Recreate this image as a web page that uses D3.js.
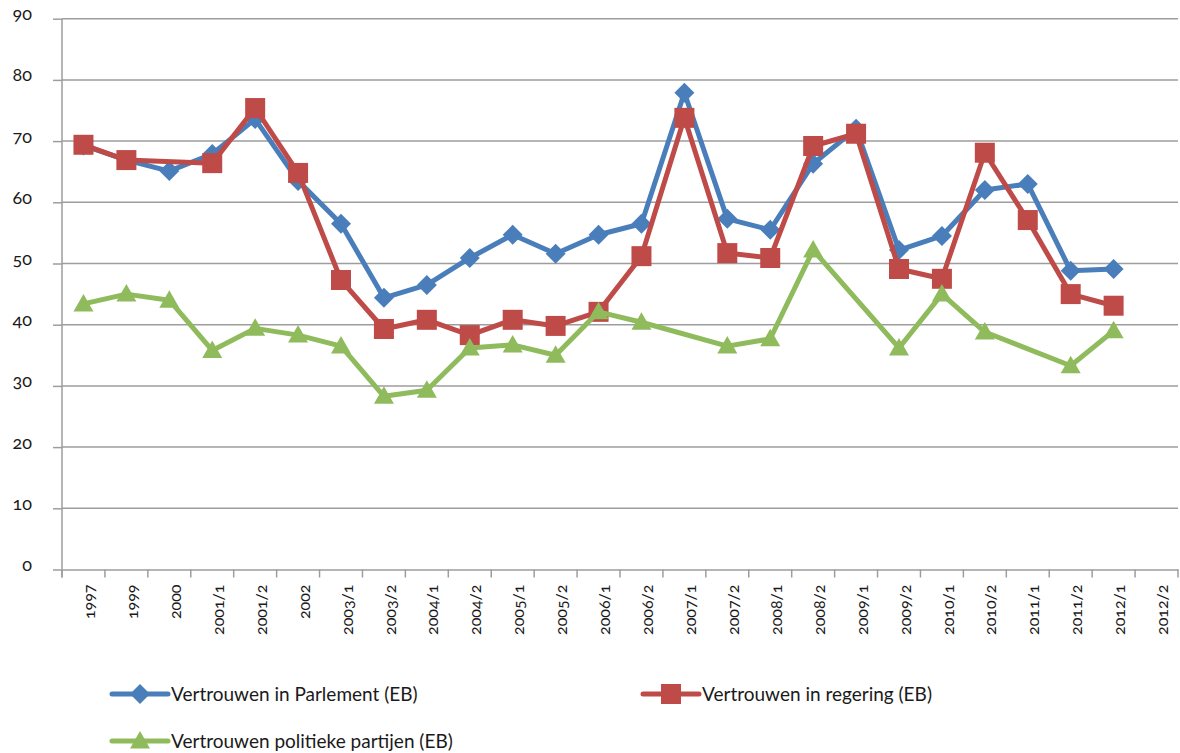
<!DOCTYPE html>
<html>
<head>
<meta charset="utf-8">
<script src="https://cdn.jsdelivr.net/npm/d3@7"></script>
<style>
  body { margin: 0; background: #fff; }
  svg { font-family: Lato, "Open Sans", sans-serif; font-variant-numeric: oldstyle-nums; }
  .grid line { stroke: #9d9d9d; stroke-width: 1.5; }
  .axis path, .axis line { stroke: #9d9d9d; stroke-width: 1.5; }
  .axis text { fill: #1a1a1a; font-family: Lato, "Open Sans", sans-serif; }
</style>
</head>
<body>
<svg id="chart" width="1180" height="753"></svg>
<script>
var categories = ["1997", "1999", "2000", "2001/1", "2001/2", "2002", "2003/1", "2003/2",
    "2004/1", "2004/2", "2005/1", "2005/2", "2006/1", "2006/2", "2007/1", "2007/2",
    "2008/1", "2008/2", "2009/1", "2009/2", "2010/1", "2010/2", "2011/1", "2011/2",
    "2012/1", "2012/2"];

var parlement = [69.3, 66.9, 65.1, 67.9, 73.6, 63.5, 56.5, 44.4, 46.5, 50.9, 54.7, 51.6,
    54.7, 56.5, 77.9, 57.3, 55.5, 66.3, 72.0, 52.2, 54.5, 62.0, 63.0, 48.8, 49.1, null];

var regering = [69.4, 66.9, null, 66.4, 75.4, 64.8, 47.3, 39.3, 40.8, 38.3, 40.8, 39.8,
    42.1, 51.2, 73.8, 51.7, 50.9, 69.2, 71.2, 49.1, 47.5, 68.1, 57.1, 45.0, 43.1, null];

var partijen = [43.4, 45.0, 44.0, 35.8, 39.4, 38.3, 36.5, 28.3, 29.3, 36.2, 36.7, 35.0,
    42.1, 40.4, null, 36.5, 37.7, 52.2, null, 36.2, 45.0, 38.8, null, 33.3, 39.0, null];

var yTicks = [0, 10, 20, 30, 40, 50, 60, 70, 80, 90];

var series = [
    { name: "Vertrouwen in Parlement (EB)", values: parlement, color: "#4a7ebb", marker: "diamond" },
    { name: "Vertrouwen in regering (EB)", values: regering, color: "#be4b48", marker: "square" },
    { name: "Vertrouwen politieke partijen (EB)", values: partijen, color: "#8fbb5c", marker: "triangle" }
];

var svg = d3.select("#chart");
var plotLeft = 62, plotRight = 1178, plotTop = 18.7, plotBottom = 569.5;

var x = d3.scaleBand().domain(categories).range([plotLeft, plotRight]);
var y = d3.scaleLinear().domain([0, 90]).range([plotBottom, plotTop]);

function markerPath(type) {
    if (type == "diamond") return "M0,-10L10,0L0,10L-10,0Z";
    if (type == "square") return "M-10,-10H10V10H-10Z";
    return "M0,-10L10,7.5H-10Z";
}

// gridlines
svg.append("g").attr("class", "grid")
    .selectAll("line")
    .data(yTicks.slice(1))
    .enter().append("line")
    .attr("x1", plotLeft).attr("x2", plotRight)
    .attr("y1", function(d) { return y(d); })
    .attr("y2", function(d) { return y(d); });

// y axis
var yAxis = svg.append("g").attr("class", "axis")
    .attr("transform", "translate(" + plotLeft + ",0)")
    .call(d3.axisLeft(y).tickValues(yTicks).tickSize(9).tickSizeOuter(0).tickPadding(21));
yAxis.select(".domain").attr("d", "M0," + plotTop + "V" + (plotBottom + 8));
yAxis.selectAll("text").style("font-size", "18px").attr("dy", "0.05em");

// x axis
var xAxis = svg.append("g").attr("class", "axis")
    .attr("transform", "translate(0," + plotBottom + ")")
    .call(d3.axisBottom(x).tickSize(0).tickSizeOuter(0));
xAxis.selectAll(".tick line").remove();
xAxis.selectAll("text")
    .style("font-size", "16px")
    .attr("text-anchor", "end")
    .attr("y", 0).attr("x", 0).attr("dy", "0.35em")
    .attr("transform", "translate(6,15) rotate(-90)");

var bounds = categories.map(function(c) { return x(c); }).concat([plotRight]);
svg.append("g").attr("class", "axis")
    .selectAll("line")
    .data(bounds)
    .enter().append("line")
    .attr("x1", function(d) { return d; }).attr("x2", function(d) { return d; })
    .attr("y1", plotBottom).attr("y2", plotBottom + 8);

var line = d3.line()
    .x(function(d) { return x(d.cat) + x.bandwidth() / 2; })
    .y(function(d) { return y(d.value); });

series.forEach(function(s) {
    var pts = categories.map(function(c, i) { return { cat: c, value: s.values[i] }; })
        .filter(function(d) { return d.value != null; });
    var g = svg.append("g");
    g.append("path")
        .datum(pts)
        .attr("fill", "none")
        .attr("stroke", s.color)
        .attr("stroke-width", 5)
        .attr("stroke-linejoin", "round")
        .attr("d", line);
    g.selectAll(".m")
        .data(pts)
        .enter().append("path")
        .attr("fill", s.color)
        .attr("transform", function(d) {
            return "translate(" + (x(d.cat) + x.bandwidth() / 2) + "," + y(d.value) + ")";
        })
        .attr("d", markerPath(s.marker));
});

// legend
var legendPos = [{ x: 112, y: 694 }, { x: 643, y: 694 }, { x: 112, y: 741 }];
series.forEach(function(s, i) {
    var p = legendPos[i];
    var g = svg.append("g").attr("transform", "translate(" + p.x + "," + p.y + ")");
    g.append("line")
        .attr("x1", 0).attr("x2", 56)
        .attr("stroke", s.color).attr("stroke-width", 5).attr("stroke-linecap", "round");
    g.append("path")
        .attr("transform", "translate(28,0)")
        .attr("fill", s.color)
        .attr("d", markerPath(s.marker));
    g.append("text")
        .attr("x", 59).attr("y", 0).attr("dy", "0.35em")
        .style("font-size", "19px").attr("fill", "#1a1a1a")
        .text(s.name);
});
</script>
</body>
</html>
